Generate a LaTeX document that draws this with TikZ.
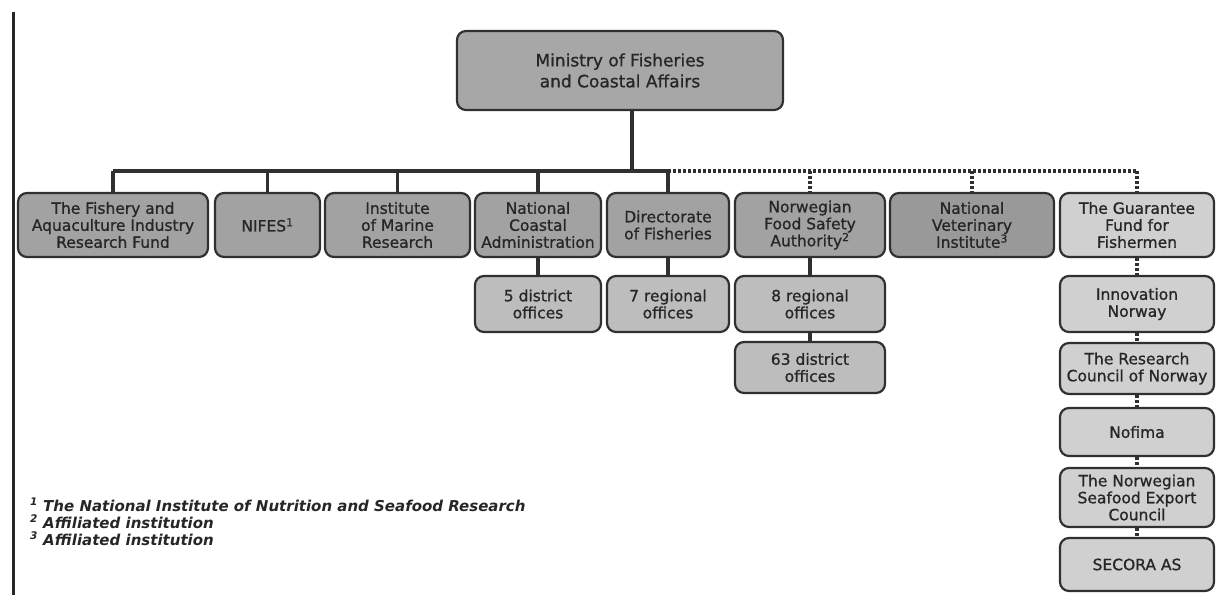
\documentclass[tikz,border=0pt]{standalone}
\usepackage{fontspec}
\setmainfont{DejaVu Sans}
\newfontfamily\boxfont{DejaVu Sans}[FakeBold=0.9]
\usetikzlibrary{calc}
\definecolor{gray1}{HTML}{A7A7A7}
\definecolor{gray2}{HTML}{A2A2A2}
\definecolor{gray3}{HTML}{999999}
\definecolor{gray4}{HTML}{BDBDBD}
\definecolor{gray5}{HTML}{D0D0D0}
\definecolor{edge1}{HTML}{303030}
\begin{document}
\begin{tikzpicture}[x=1pt,y=-1pt,
    orgbox/.style={draw=edge1,line width=2.2pt,rounded corners=9pt,align=center,
      inner sep=0pt,font=\boxfont\fontsize{15.5}{17}\selectfont,text=black!85},
    conn/.style={draw=edge1,line width=3.4pt},
    dotconn/.style={draw=edge1,line width=3.2pt,dash pattern=on 3pt off 2pt}]
    \useasboundingbox (0,0) rectangle (1221,595);
    \draw[line width=3pt,black!85] (13,12) -- (13,595);
    % ministry
    \node[orgbox,fill=gray1,minimum width=326,minimum height=79,font=\boxfont\fontsize{17}{21}\selectfont] (min) at (620,70.5) {Ministry of Fisheries\\and Coastal Affairs};
    % first row
    \node[orgbox,fill=gray2,minimum width=190,minimum height=64] (fund) at (113,225) {The Fishery and\\Aquaculture Industry\\Research Fund};
    \node[orgbox,fill=gray2,minimum width=105,minimum height=64] (nifes) at (267.5,225) {NIFES\textsuperscript{1}};
    \node[orgbox,fill=gray2,minimum width=145,minimum height=64] (imr) at (397.5,225) {Institute\\of Marine\\Research};
    \node[orgbox,fill=gray2,minimum width=126,minimum height=64] (nca) at (538,225) {National\\Coastal\\Administration};
    \node[orgbox,fill=gray2,minimum width=122,minimum height=64] (dof) at (668,225) {Directorate\\of Fisheries};
    \node[orgbox,fill=gray2,minimum width=150,minimum height=64] (nfsa) at (810,225) {Norwegian\\Food Safety\\Authority\textsuperscript{2}};
    \node[orgbox,fill=gray3,minimum width=164,minimum height=64] (nvi) at (972,225) {National\\Veterinary\\Institute\textsuperscript{3}};
    \node[orgbox,fill=gray5,minimum width=154,minimum height=64] (gff) at (1137,225) {The Guarantee\\Fund for\\Fishermen};
    % offices
    \node[orgbox,fill=gray4,minimum width=126,minimum height=56] (dist5) at (538,304) {5 district\\offices};
    \node[orgbox,fill=gray4,minimum width=122,minimum height=56] (reg7) at (668,304) {7 regional\\offices};
    \node[orgbox,fill=gray4,minimum width=150,minimum height=56] (reg8) at (810,304) {8 regional\\offices};
    \node[orgbox,fill=gray4,minimum width=150,minimum height=51] (dist63) at (810,367.5) {63 district\\offices};
    % right column
    \node[orgbox,fill=gray5,minimum width=154,minimum height=56] (innov) at (1137,304) {Innovation\\Norway};
    \node[orgbox,fill=gray5,minimum width=154,minimum height=51] (rcn) at (1137,368.5) {The Research\\Council of Norway};
    \node[orgbox,fill=gray5,minimum width=154,minimum height=48] (nofima) at (1137,432) {Nofima};
    \node[orgbox,fill=gray5,minimum width=154,minimum height=59] (nsec) at (1137,497.5) {The Norwegian\\Seafood Export\\Council};
    \node[orgbox,fill=gray5,minimum width=154,minimum height=53] (secora) at (1137,564.5) {SECORA AS};
    % lines
    \coordinate (bus) at (0,171);
    \coordinate (top) at ([xshift=12pt]min.south);
    \draw[conn] (top) -- (top |- bus);
    \draw[conn] (fund.north |- bus) -- (dof.north |- bus);
    \foreach \n in {fund,nifes,imr,nca,dof}{
      \draw[conn] (\n.north) -- (\n.north |- bus);
    }
    \draw[dotconn] (dof.north |- bus) -- (gff.north |- bus);
    \foreach \n in {nfsa,nvi,gff}{
      \draw[dotconn] (\n.north |- bus) -- (\n.north);
    }
    \draw[conn] (nca) -- (dist5);
    \draw[conn] (dof) -- (reg7);
    \draw[conn] (nfsa) -- (reg8);
    \draw[conn] (reg8) -- (dist63);
    \foreach \a/\b in {gff/innov,innov/rcn,rcn/nofima,nofima/nsec,nsec/secora}{
      \draw[dotconn] (\a.south) -- (\b.north);
    }
    % footnotes
    \node[anchor=north west,align=left,inner sep=0pt,font=\fontsize{15}{17}\selectfont\bfseries\itshape,text=black!85] (notes) at (30,498)
      {\textsuperscript{1} The National Institute of Nutrition and Seafood Research\\
       \textsuperscript{2} Affiliated institution\\
       \textsuperscript{3} Affiliated institution};
  \end{tikzpicture}
\end{document}
